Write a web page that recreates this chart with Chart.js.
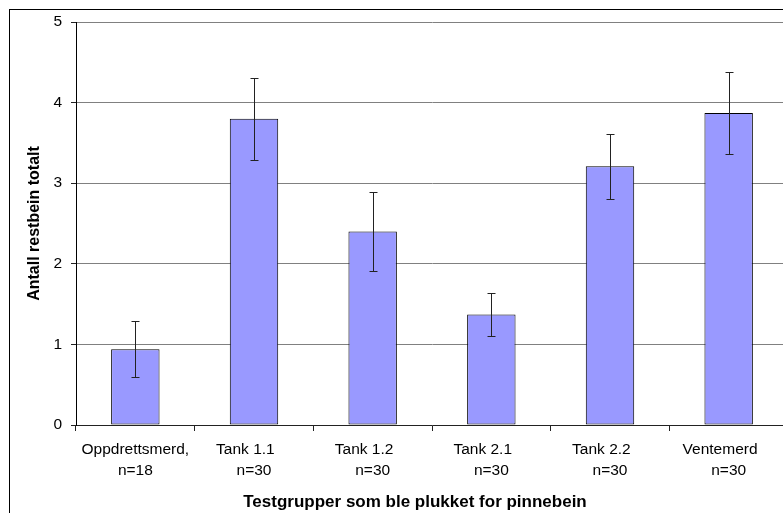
<!DOCTYPE html>
<html>
<head>
<meta charset="utf-8">
<script src="https://cdn.jsdelivr.net/npm/chart.js@4/dist/chart.umd.min.js"></script>
<style>
  html, body { margin: 0; padding: 0; width: 783px; height: 513px; overflow: hidden; background: #fff; }
  #frame { position: absolute; left: 9px; top: 9px; width: 1000px; height: 1000px; border: 1px solid #000; }
  #c { position: absolute; left: 0; top: 0; z-index: 2; }
</style>
</head>
<body>
<div id="frame"></div>
<canvas id="c" width="830" height="513"></canvas>
<script>
// ---- data ----
const groupNames = ["Oppdrettsmerd,", "Tank 1.1    ", "Tank 1.2    ", "Tank 2.1    ", "Tank 2.2    ", "Ventemerd    "];
const groupSizes = ["n=18", "n=30", "n=30", "n=30", "n=30", "n=30"];
const meanValues = [0.94, 3.80, 2.40, 1.37, 3.21, 3.87];
const errorValues = [0.35, 0.51, 0.49, 0.27, 0.40, 0.51];
const yTicks = [0, 1, 2, 3, 4, 5];
const yTitle = "Antall restbein totalt";
const xTitle = "Testgrupper som ble plukket for pinnebein";

const labels = groupNames.map((n, i) => [n, groupSizes[i]]);
const FONT = "Arial, 'Liberation Sans', sans-serif";

const errorBarPlugin = {
  id: 'errorBars',
  afterDatasetsDraw(chart) {
    const ctx = chart.ctx;
    const meta = chart.getDatasetMeta(0);
    const ys = chart.scales.y;
    ctx.save();
    ctx.strokeStyle = '#222';
    ctx.lineWidth = 1;
    meta.data.forEach((bar, i) => {
      const x = Math.round(bar.x) + 0.5;
      const top = Math.round(ys.getPixelForValue(meanValues[i] + errorValues[i])) + 0.5;
      const bot = Math.round(ys.getPixelForValue(meanValues[i] - errorValues[i])) + 0.5;
      ctx.beginPath();
      ctx.moveTo(x, top); ctx.lineTo(x, bot);
      ctx.moveTo(x - 4, top); ctx.lineTo(x + 4, top);
      ctx.moveTo(x - 4, bot); ctx.lineTo(x + 4, bot);
      ctx.stroke();
    });
    ctx.restore();
  }
};

new Chart(document.getElementById('c'), {
  type: 'bar',
  data: {
    labels: labels,
    datasets: [{
      data: meanValues,
      backgroundColor: '#9999FF',
      borderColor: '#000',
      borderWidth: 1,
      borderSkipped: false,
      barPercentage: 0.408,
      categoryPercentage: 1.0
    }]
  },
  options: {
    responsive: false,
    animation: false,
    devicePixelRatio: 1,
    layout: { padding: { left: 42, top: 22, right: 42, bottom: 0 } },
    plugins: {
      legend: { display: false },
      tooltip: { enabled: false },
      title: {
        display: true,
        position: 'bottom',
        text: xTitle,
        color: '#000',
        font: { family: FONT, size: 17, weight: 'bold', lineHeight: 1.2 },
        padding: { top: 0, bottom: 0 }
      }
    },
    scales: {
      x: {
        grid: { display: true, drawOnChartArea: false, drawTicks: true, tickLength: 6, offset: true, color: '#222' },
        border: { display: true, color: '#222', width: 1 },
        ticks: { color: '#000', padding: 9, maxRotation: 0, autoSkip: false,
                 font: { family: FONT, size: 15.5, lineHeight: 1.3 } },
        afterFit(scale) { scale.height = 513 - 425 - 20.4; }
      },
      y: {
        min: 0, max: 5,
        afterBuildTicks(scale) { scale.ticks = yTicks.map(v => ({ value: v })); },
        grid: { color: '#808080', lineWidth: 1, drawTicks: true, tickLength: 5, tickColor: '#222' },
        border: { display: true, color: '#000', width: 1 },
        ticks: { color: '#000', padding: 9, font: { family: FONT, size: 15.5 } },
        title: { display: true, text: yTitle, color: '#000', padding: { top: -16.6, bottom: 0 },
                 font: { family: FONT, size: 16, weight: 'bold' } },
        afterFit(scale) { scale.width = 34; }
      }
    }
  },
  plugins: [errorBarPlugin]
});
</script>
</body>
</html>
